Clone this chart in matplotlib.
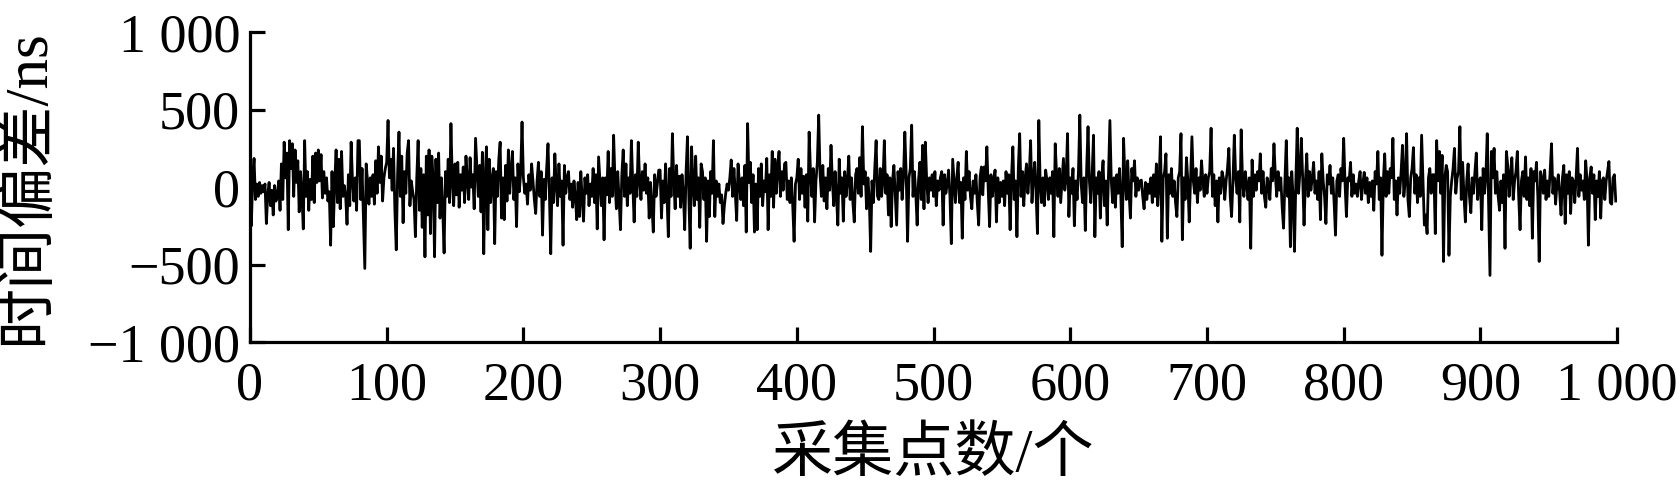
import matplotlib
matplotlib.use('Agg')
import matplotlib.pyplot as plt
import numpy as np
from matplotlib.ticker import FuncFormatter

# time offset (ns) per sample (10 per line)
offset_ns = [
    -120, -250, 60, 185, -80, 20, -60, 30, -40, 10,
    -30, 20, -235, -50, 30, -120, -20, -180, 10, -90,
    -60, 40, -150, 150, -80, 290, 60, 220, -275, 300,
    120, 280, -60, 240, 30, 170, -160, 100, -50, -270,
    300, -60, 100, -150, 50, -80, 200, -100, 220, 30,
    240, 40, 210, -70, 100, -40, 60, -90, -30, -375,
    100, -255, 30, 240, -100, 180, -140, 230, -60, 10,
    -60, -240, 80, -120, 290, 40, -90, 60, -150, 300,
    300, -80, 120, -200, -525, 150, 40, -110, 60, -60,
    80, -110, 170, -40, 260, 30, 200, -90, 60, 120,
    160, 430, 60, 180, -20, 250, -150, -405, 90, 355,
    -60, 200, -230, 100, -40, 220, 300, -120, 40, -30,
    -80, -320, 60, 300, -150, 120, -260, 80, -450, 200,
    -180, 240, -300, 200, 60, -450, 180, -100, 220, -200,
    60, -150, -425, 100, -60, 180, -100, 410, 40, -120,
    150, -50, 160, -130, 80, -20, 130, -100, 200, 40,
    -80, 190, 0, 80, -140, 315, 120, -60, 140, -160,
    225, -430, 60, 260, -275, 180, -100, 50, 120, -365,
    100, -60, 180, 290, -200, 60, -210, 140, -90, 240,
    -40, 120, 230, -80, 60, -255, 150, -30, 90, 420,
    60, -40, 20, -110, 80, -20, 150, 40, -80, -170,
    40, 160, -60, 100, -310, 50, -80, 120, 280, -40,
    -430, 60, -100, 215, 20, -120, 150, -60, 40, -375,
    140, -40, 60, 100, -80, 20, -130, 40, -60, -210,
    30, -190, 100, -80, -220, 60, -40, 80, -120, 20,
    -60, 120, -100, 80, -270, 195, 40, -120, 60, -340,
    60, -50, 230, -100, 120, -60, 335, 40, -140, 100,
    -80, -275, 80, 240, -60, 150, -120, 60, -40, 300,
    20, -225, 80, -60, 290, 40, -80, 100, -20, 150,
    -40, 60, -200, 30, -120, -290, 80, -60, 20, 110,
    110, -200, 40, -100, 150, -50, -320, 120, -60, 345,
    40, -140, 140, -60, 70, -130, 80, -40, -275, 100,
    325, -60, -395, 260, 40, -120, 200, -80, 60, -260,
    150, 100, -80, 60, -350, 40, -190, 100, -40, 300,
    -190, 40, -60, 20, -100, -50, -235, -120, -40, 20,
    -20, 60, 175, -60, 120, -40, -215, 150, 30, -80,
    60, -120, 140, -290, 410, 30, 160, -100, 80, -290,
    20, -275, 120, -60, 150, -120, 40, -30, 185, -275,
    80, -60, 230, -130, 180, -40, 120, 230, -60, 100,
    -20, 150, 160, -80, 40, -100, 60, -120, -350, 20,
    60, 180, -80, 120, -40, 70, -130, 80, -220, 355,
    100, -60, 120, -225, 40, 160, 465, 80, -60, 140,
    -90, 60, -140, 120, -20, 270, 40, -120, 100, -60,
    -245, 180, -40, 60, -220, 100, -60, 40, 200, -80,
    60, -100, -225, 80, 120, -40, 190, -60, 390, 20,
    100, -140, 60, -80, -415, 40, -100, 120, 300, -60,
    -80, 120, -60, 40, 300, -40, 80, -180, 60, -255,
    40, 140, -60, -245, 100, -20, 120, -80, 60, 355,
    80, -350, 60, 120, 400, -60, 100, -40, -245, 40,
    160, -80, 270, -140, 290, 40, -100, 60, -20, 80,
    -60, 100, -120, 40, -20, 60, 100, -245, 80, -40,
    20, 110, -60, -365, 180, 40, -100, 60, 160, -100,
    30, -330, 60, -80, 230, -20, 100, -60, -140, 40,
    -40, 80, -100, -245, 60, 130, -50, 130, 40, 260,
    -20, -255, 80, -60, 40, 110, -225, 60, -100, 30,
    -60, 40, -120, 100, -40, 80, -275, 60, 260, -80,
    40, -320, 120, 345, -60, 100, -120, 60, 150, -40,
    80, 300, -100, 60, 160, -40, -300, 430, 20, -100,
    60, -120, 110, 40, -80, 60, -40, 100, -320, 280,
    80, -60, 120, -100, 40, 185, -20, 60, 345, -190,
    60, -40, 120, -250, 40, -80, 100, 465, 20, -100,
    60, -280, 120, 390, 40, -100, 80, 335, -320, 60,
    -40, 100, -200, 60, 170, -120, 40, -245, 80, 430,
    40, -100, 60, -130, 80, -40, 120, -60, -385, 315,
    60, -80, 170, -40, -200, 120, 40, 170, -60, 60,
    -20, 40, 45, -60, -140, 30, -80, 20, -40, 60,
    -100, 80, -60, 150, -120, 40, 325, -350, 60, 100,
    215, -330, 80, -40, 120, -60, 40, -100, -190, 60,
    100, 345, -340, 60, -80, 190, 40, -225, 60, 325,
    40, -40, 120, -100, 60, -20, 170, 40, -60, 80,
    -40, 60, 100, 380, -60, 80, -120, 40, -225, 60,
    -40, 100, 60, -80, 40, 120, 250, -60, -190, 40,
    335, 60, -40, 100, -225, 370, 40, -60, 100, 20,
    -80, 60, -395, 175, -60, 80, -20, 100, 40, 215,
    -40, 100, -60, -130, 60, 20, -80, 120, 40, 280,
    80, -60, 100, -20, 60, -130, -265, 40, 300, -60,
    60, -385, 100, -60, -415, 40, 380, -40, 100, 315,
    60, -245, 40, 215, -60, 100, -20, 60, 160, -40,
    40, -80, 100, -210, 215, 40, -60, -235, 80, 20,
    140, -40, 60, -100, -310, 40, 80, -60, 120, 40,
    315, 20, -190, 60, 40, 160, -60, 80, -40, 20,
    -60, 40, 100, -80, 20, 95, -40, 60, -100, 30,
    -60, 40, -150, 100, 20, 230, -80, 60, -440, 40,
    215, -60, 100, -40, 120, 60, 315, -80, 40, -180,
    60, -40, 100, 270, -60, 40, 345, -80, -190, 60,
    120, 255, -40, 80, -100, 60, -60, 335, 40, -245,
    -180, -300, 60, 120, -40, 80, 80, -300, 300, 40,
    230, -40, 205, -480, 60, 140, 100, -440, -60, 40,
    120, 250, -40, 60, 100, 390, -80, 160, -60, -225,
    40, 150, -60, -165, 60, -40, 100, 220, -80, 40,
    60, -275, 120, -40, 80, 345, -100, -570, 230, 60,
    250, -40, 100, -60, -150, 40, -100, 80, -395, 230,
    140, -60, 80, 190, -80, 40, 100, 230, -60, -275,
    40, 100, -60, 195, -80, 60, -120, 120, -330, 100,
    40, 160, -60, -480, 100, 60, -40, 110, -80, 40,
    -60, 100, 280, -40, 60, -110, 20, 80, -40, -180,
    60, 140, -235, 80, -40, 100, -170, 60, 40, -100,
    60, 250, -60, 80, -20, 40, -80, 170, 40, -375,
    60, 130, -40, 80, -210, 40, -60, 100, -200, 40,
    60, -80, 40, 100, 165, -100, -110, 60, 80, -90,
]
sample_idx = np.arange(len(offset_ns))

x_ticks = [0, 100, 200, 300, 400, 500, 600, 700, 800, 900, 1000]
y_ticks = [-1000, -500, 0, 500, 1000]

plt.rcParams['font.family'] = ['Liberation Serif', 'Noto Sans CJK SC']
plt.rcParams['axes.unicode_minus'] = True


def thousands(v, pos):
    # "1 000" style with a space as thousands separator
    s = f'{abs(int(v)):,}'.replace(',', ' ')
    return ('\u2212' + s) if v < 0 else s


fig = plt.figure(figsize=(16.81, 4.95), dpi=100)
ax = fig.add_axes([0.1487, 0.309, 0.8133, 0.626])

ax.plot(sample_idx, offset_ns, color='black', linewidth=2.0)

ax.set_xlim(0, 1000)
ax.set_ylim(-1000, 1000)
ax.set_xticks(x_ticks)
ax.set_yticks(y_ticks)
ax.xaxis.set_major_formatter(FuncFormatter(thousands))
ax.yaxis.set_major_formatter(FuncFormatter(thousands))

for side in ['top', 'right']:
    ax.spines[side].set_visible(False)
for side in ['left', 'bottom']:
    ax.spines[side].set_linewidth(2.3)

ax.tick_params(axis='both', direction='in', length=11, width=2.3, labelsize=39)
ax.tick_params(axis='x', pad=14)
ax.tick_params(axis='y', pad=7)

ax.set_xlabel('采集点数/个', fontsize=44)
ax.set_ylabel('时间偏差/ns', fontsize=44)
ax.xaxis.set_label_coords(0.5, -0.275)
ax.yaxis.set_label_coords(-0.142, 0.5)

fig.savefig('out.png', dpi=100)
